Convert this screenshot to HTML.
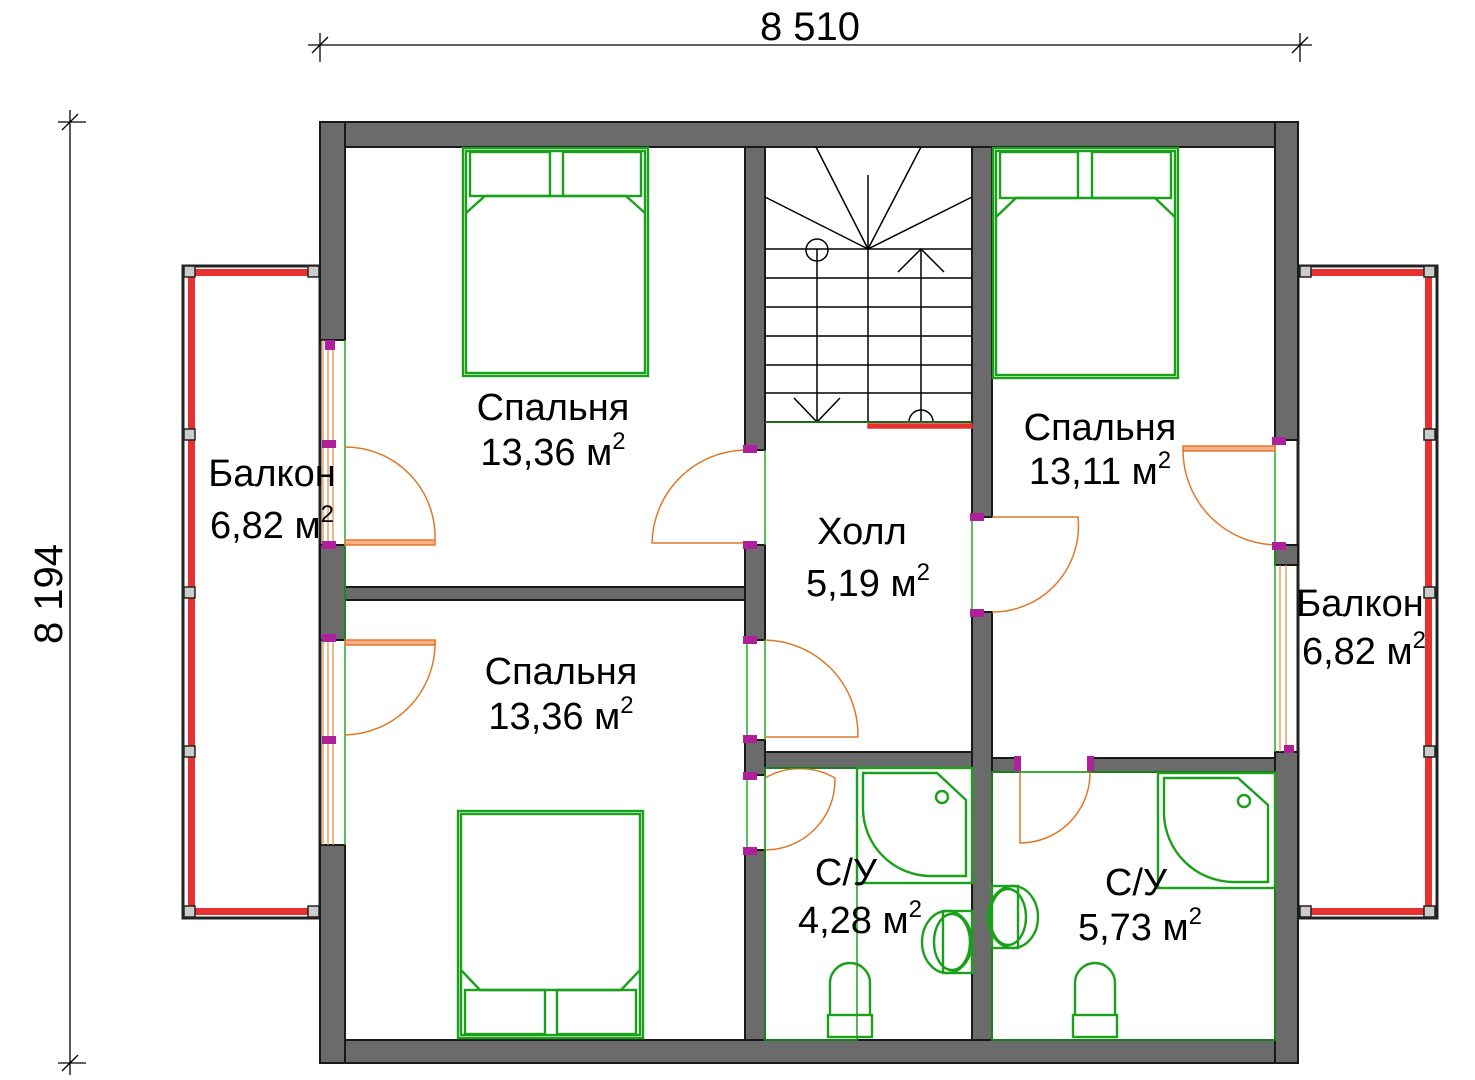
<!DOCTYPE html>
<html><head><meta charset="utf-8"><style>body{margin:0;background:#fff}svg{display:block}text{font-family:"Liberation Sans",sans-serif;fill:#000}</style></head><body>
<svg width="1475" height="1080" viewBox="0 0 1475 1080" xmlns="http://www.w3.org/2000/svg">
<g stroke="#000" stroke-width="1.3" fill="none">
<line x1="308" y1="45" x2="1312" y2="45"/><line x1="320" y1="33" x2="320" y2="62"/><line x1="1300" y1="33" x2="1300" y2="62"/>
<line x1="312" y1="53" x2="328" y2="37"/><line x1="1292" y1="53" x2="1308" y2="37"/>
<line x1="70" y1="110" x2="70" y2="1075"/><line x1="58" y1="122" x2="86" y2="122"/><line x1="58" y1="1063" x2="86" y2="1063"/>
<line x1="62" y1="130" x2="78" y2="114"/><line x1="62" y1="1071" x2="78" y2="1055"/>
</g>
<text x="810" y="40" font-size="40" text-anchor="middle">8 510</text>
<text transform="translate(62,594) rotate(-90)" font-size="40" text-anchor="middle">8 194</text>
<g>
<rect x="183" y="266" width="137" height="652" fill="none" stroke="#222" stroke-width="3"/>
<rect x="188" y="269" width="7" height="646" fill="#e83030"/>
<rect x="188" y="269" width="130" height="7" fill="#e83030"/>
<rect x="188" y="908" width="130" height="7" fill="#e83030"/>
<rect x="1298" y="266" width="139" height="652" fill="none" stroke="#222" stroke-width="3"/>
<rect x="1425" y="269" width="7" height="646" fill="#e83030"/>
<rect x="1300" y="269" width="130" height="7" fill="#e83030"/>
<rect x="1300" y="908" width="130" height="7" fill="#e83030"/>
<g fill="#ccc" stroke="#222" stroke-width="1.5">
<rect x="184" y="266" width="11" height="11"/><rect x="308" y="266" width="11" height="11"/><rect x="184" y="429" width="11" height="11"/><rect x="184" y="587" width="11" height="11"/><rect x="184" y="746" width="11" height="11"/><rect x="184" y="906" width="11" height="11"/><rect x="308" y="906" width="11" height="11"/>
<rect x="1424" y="266" width="11" height="11"/><rect x="1300" y="266" width="11" height="11"/><rect x="1424" y="429" width="11" height="11"/><rect x="1424" y="587" width="11" height="11"/><rect x="1424" y="746" width="11" height="11"/><rect x="1424" y="906" width="11" height="11"/><rect x="1300" y="906" width="11" height="11"/>
</g>
</g>
<g fill="#6b6b6b" stroke="#1a1a1a" stroke-width="2">
<rect x="320" y="122" width="978" height="25"/>
<rect x="320" y="1040" width="978" height="23"/>
<rect x="320" y="122" width="25" height="218"/>
<rect x="320" y="545" width="25" height="95"/>
<rect x="320" y="845" width="25" height="218"/>
<rect x="1275" y="122" width="23" height="318"/>
<rect x="1275" y="545" width="23" height="20"/>
<rect x="1275" y="752" width="23" height="311"/>
<rect x="745" y="147" width="20" height="303"/>
<rect x="745" y="545" width="20" height="95"/>
<rect x="745" y="740" width="20" height="35"/>
<rect x="745" y="850" width="20" height="190"/>
<rect x="972" y="147" width="20" height="370"/>
<rect x="972" y="612" width="20" height="428"/>
<rect x="345" y="587" width="400" height="13"/>
<rect x="765" y="752" width="207" height="16"/>
<rect x="992" y="758" width="26" height="14"/>
<rect x="1090" y="758" width="185" height="14"/>
</g>
<g fill="none" stroke="#e08a40" stroke-width="1.2">
<line x1="323" y1="340" x2="323" y2="545"/><line x1="328" y1="340" x2="328" y2="545"/><line x1="333" y1="340" x2="333" y2="545"/>
<line x1="323" y1="640" x2="323" y2="845"/><line x1="328" y1="640" x2="328" y2="845"/><line x1="333" y1="640" x2="333" y2="845"/>
<line x1="1280" y1="565" x2="1280" y2="752"/><line x1="1286" y1="565" x2="1286" y2="752"/>
</g>
<g stroke="#22aa22" stroke-width="1.5">
<line x1="345" y1="340" x2="345" y2="845"/><line x1="1275" y1="440" x2="1275" y2="752"/>
<line x1="765" y1="450" x2="765" y2="545"/><line x1="747" y1="640" x2="747" y2="740"/><line x1="765" y1="640" x2="765" y2="740"/>
<line x1="747" y1="775" x2="747" y2="850"/><line x1="765" y1="775" x2="765" y2="850"/>
<line x1="972" y1="517" x2="972" y2="612"/><line x1="1018" y1="772" x2="1090" y2="772"/>
</g>
<g fill="none" stroke="#e0782a" stroke-width="1.5">
<path d="M345 447 A90 90 0 0 1 435 540"/><rect x="345" y="540" width="90" height="5" fill="#f6b08a"/>
<path d="M435 640 A92 92 0 0 1 345 735"/><rect x="345" y="640" width="90" height="5" fill="#f6b08a"/>
<path d="M745 450 A95 95 0 0 0 652 543 L745 543"/>
<path d="M765 640 A95 95 0 0 1 858 737 L765 737"/>
<path d="M765 778 A70 70 0 0 1 835 778 L835 780 A70 70 0 0 1 765 850"/>
<path d="M992 517 L1078 517 A86 86 0 0 1 992 612"/>
<path d="M1090 772 L1090 775 A70 70 0 0 1 1020 843 L1020 772"/>
<path d="M1183 450 A95 95 0 0 0 1275 545"/><rect x="1183" y="446" width="92" height="5" fill="#f6b08a"/>
<rect x="868" y="424" width="104" height="4" fill="#e83030" stroke="#e83030"/>
</g>
<g fill="#b0209c">
<rect x="325" y="340" width="10" height="10"/><rect x="322" y="440" width="14" height="8"/><rect x="322" y="541" width="14" height="8"/>
<rect x="322" y="634" width="14" height="8"/><rect x="322" y="736" width="14" height="8"/>
<rect x="743" y="445" width="14" height="8"/><rect x="743" y="541" width="14" height="8"/>
<rect x="743" y="636" width="14" height="8"/><rect x="743" y="735" width="14" height="8"/>
<rect x="743" y="772" width="14" height="8"/><rect x="743" y="847" width="14" height="8"/>
<rect x="970" y="513" width="14" height="8"/><rect x="970" y="609" width="14" height="8"/>
<rect x="1014" y="756" width="7" height="16"/><rect x="1087" y="756" width="7" height="16"/>
<rect x="1272" y="437" width="14" height="8"/><rect x="1272" y="542" width="14" height="8"/><rect x="1284" y="745" width="10" height="8"/>
</g>
<g stroke="#000" stroke-width="1.5" fill="none">
<line x1="765" y1="249" x2="972" y2="249"/><line x1="765" y1="278" x2="972" y2="278"/><line x1="765" y1="307" x2="972" y2="307"/><line x1="765" y1="336" x2="972" y2="336"/><line x1="765" y1="365" x2="972" y2="365"/><line x1="765" y1="393" x2="972" y2="393"/>
<line x1="868" y1="175" x2="868" y2="422"/><line x1="817" y1="249" x2="817" y2="422"/><line x1="921" y1="249" x2="921" y2="422"/>
<circle cx="817" cy="250" r="11"/><path d="M794 398 L817 422 L840 398"/><path d="M898 272 L921 249 L944 272"/><path d="M909 422 A12 12 0 0 1 933 422"/>
<line x1="868" y1="249" x2="816" y2="147"/><line x1="868" y1="249" x2="921" y2="147"/><line x1="868" y1="249" x2="765" y2="197"/><line x1="868" y1="249" x2="972" y2="197"/>
</g>
<line x1="765" y1="422" x2="972" y2="422" stroke="#1a6a1a" stroke-width="2"/>
<g fill="none" stroke="#1aa01a" stroke-width="2.4">
<rect x="463" y="148" width="185" height="228"/><rect x="466" y="151" width="179" height="222"/>
<rect x="470" y="152" width="80" height="44"/><rect x="563" y="152" width="78" height="44"/><path d="M466 213 L485 196 L626 196 L645 213"/>
<rect x="993" y="148" width="185" height="230"/><rect x="996" y="151" width="179" height="224"/>
<rect x="1000" y="152" width="78" height="46"/><rect x="1092" y="152" width="79" height="46"/><path d="M996 217 L1016 198 L1155 198 L1175 217"/>
<rect x="458" y="811" width="185" height="227"/><rect x="461" y="814" width="179" height="221"/>
<rect x="465" y="990" width="80" height="44"/><rect x="557" y="990" width="79" height="44"/><path d="M461 970 L480 990 L621 990 L640 970"/>
<rect x="857" y="768" width="115" height="115"/><path d="M863 773 L937 773 L966 800 L966 876 L930 876 A68 68 0 0 1 863 810 Z"/>
<circle cx="942" cy="797" r="6"/>
<rect x="1158" y="773" width="117" height="115"/><path d="M1164 778 L1238 778 L1268 805 L1268 882 L1232 882 A70 70 0 0 1 1164 815 Z"/>
<circle cx="1244" cy="801" r="6"/>
<rect x="943" y="911" width="29" height="62"/><ellipse cx="947" cy="942" rx="25" ry="31"/><ellipse cx="952" cy="942" rx="18" ry="28"/>
<rect x="992" y="886" width="26" height="62"/><ellipse cx="1013" cy="917" rx="25" ry="31"/><ellipse cx="1008" cy="917" rx="18" ry="28"/>
<path d="M830 1015 L830 983 A20 20 0 0 1 870 983 L870 1015"/><rect x="828" y="1015" width="44" height="22"/>
<path d="M1075 1015 L1075 983 A20 20 0 0 1 1115 983 L1115 1015"/><rect x="1073" y="1015" width="44" height="22"/>
<rect x="765" y="768" width="92" height="272" stroke-width="1.5"/>
<rect x="992" y="772" width="283" height="268" stroke-width="1.5"/>
</g>
<g font-size="38">
<text x="553" y="420" text-anchor="middle">Спальня</text><text x="553" y="465" text-anchor="middle">13,36 м<tspan font-size="24" dy="-16">2</tspan></text>
<text x="561" y="684" text-anchor="middle">Спальня</text><text x="561" y="729" text-anchor="middle">13,36 м<tspan font-size="24" dy="-16">2</tspan></text>
<text x="1100" y="440" text-anchor="middle">Спальня</text><text x="1100" y="484" text-anchor="middle">13,11 м<tspan font-size="24" dy="-16">2</tspan></text>
<text x="862" y="544" text-anchor="middle">Холл</text><text x="868" y="596" text-anchor="middle">5,19 м<tspan font-size="24" dy="-16">2</tspan></text>
<text x="272" y="486" text-anchor="middle">Балкон</text><text x="272" y="538" text-anchor="middle">6,82 м<tspan font-size="24" dy="-16">2</tspan></text>
<text x="1360" y="616" text-anchor="middle">Балкон</text><text x="1364" y="664" text-anchor="middle">6,82 м<tspan font-size="24" dy="-16">2</tspan></text>
<text x="846" y="885" text-anchor="middle">С/У</text><text x="860" y="933" text-anchor="middle">4,28 м<tspan font-size="24" dy="-16">2</tspan></text>
<text x="1136" y="895" text-anchor="middle">С/У</text><text x="1140" y="940" text-anchor="middle">5,73 м<tspan font-size="24" dy="-16">2</tspan></text>
</g>
</svg>
</body></html>
